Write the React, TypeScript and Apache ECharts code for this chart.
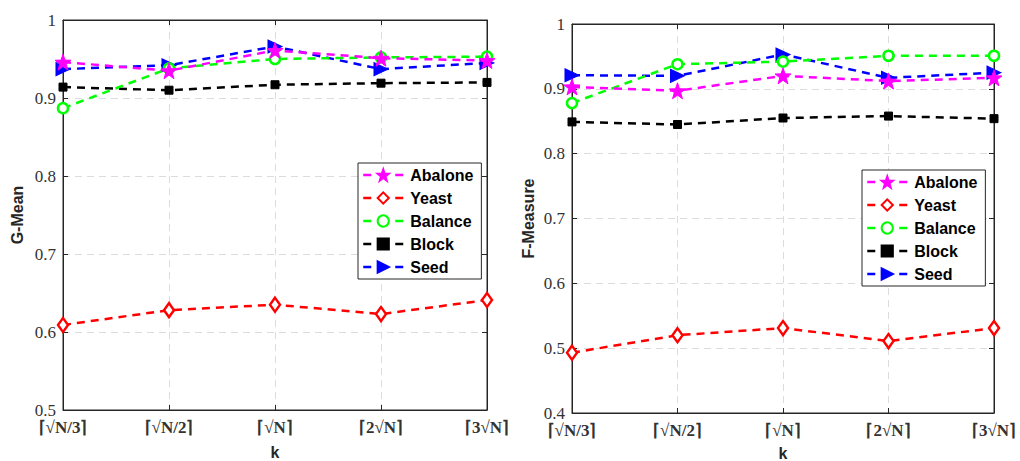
import React, { useEffect, useRef } from "react";
import * as echarts from "echarts";

const categories = ["⌈√N/3⌉", "⌈√N/2⌉", "⌈√N⌉", "⌈2√N⌉", "⌈3√N⌉"];
const seriesNames = ["Abalone", "Yeast", "Balance", "Block", "Seed"];

const gmeanAbalone = [0.946, 0.935, 0.961, 0.951, 0.948];
const gmeanYeast = [0.609, 0.628, 0.635, 0.623, 0.641];
const gmeanBalance = [0.887, 0.938, 0.95, 0.952, 0.953];
const gmeanBlock = [0.914, 0.91, 0.917, 0.919, 0.92];
const gmeanSeed = [0.937, 0.942, 0.966, 0.937, 0.945];

const fAbalone = [0.903, 0.897, 0.92, 0.912, 0.917];
const fYeast = [0.493, 0.52, 0.531, 0.511, 0.531];
const fBalance = [0.878, 0.938, 0.942, 0.951, 0.951];
const fBlock = [0.849, 0.845, 0.855, 0.858, 0.854];
const fSeed = [0.921, 0.92, 0.953, 0.917, 0.925];

const STAR =
  "path://M0,-10 L2.35,-3.24 9.51,-3.09 3.8,1.24 5.88,8.09 0,4 -5.88,8.09 -3.8,1.24 -9.51,-3.09 -2.35,-3.24Z";

const styles: Record<string, any> = {
  Abalone: { color: "#ff00ff", symbol: STAR, symbolSize: 16, rotate: 0, fill: "#ff00ff" },
  Yeast: { color: "#ff0000", symbol: "diamond", symbolSize: [10, 14], rotate: 0, fill: "#ffffff" },
  Balance: { color: "#00ff00", symbol: "circle", symbolSize: 10, rotate: 0, fill: "#ffffff" },
  Block: { color: "#000000", symbol: "rect", symbolSize: 8, rotate: 0, fill: "#000000" },
  Seed: { color: "#0000ff", symbol: "triangle", symbolSize: [13, 14], rotate: -90, fill: "#0000ff" },
};

const SERIF = "Liberation Serif";
const SANS = "Liberation Sans";

const App: React.FC = () => {
  const ref = useRef<HTMLDivElement>(null);
  useEffect(() => {
    if (!ref.current) return;
    const chart = echarts.init(ref.current, undefined, { renderer: "svg" });

    const tickFont = {
      fontFamily: SERIF,
      fontSize: 17,
      color: "#333333",
    };
    const nameFont = {
      fontFamily: SANS,
      fontWeight: "bold" as const,
      fontSize: 16,
      color: "#262626",
    };
    const splitLine = {
      show: true,
      lineStyle: { color: "#dcdcdc", type: [7, 5] as any, width: 1 },
    };

    const gridBase = {
      show: true,
      borderColor: "#262626",
      borderWidth: 1,
      backgroundColor: "#fff",
      containLabel: false,
      outerBoundsMode: "none",
    };
    const grids = [
      { ...gridBase, left: 63, right: 533, top: 20, bottom: 51 },
      { ...gridBase, left: 572, right: 26, top: 24, bottom: 48 },
    ];

    const xAxes: any[] = [];
    const yAxes: any[] = [];
    [0, 1].forEach((g) => {
      xAxes.push({
        type: "category",
        gridIndex: g,
        data: categories,
        boundaryGap: false,
        name: "k",
        nameLocation: "middle",
        nameGap: g === 0 ? 34 : 32,
        nameTextStyle: nameFont,
        axisLine: { lineStyle: { color: "#262626" } },
        axisTick: { inside: true, length: 5, lineStyle: { color: "#262626" } },
        axisLabel: { ...tickFont, margin: 9, fontWeight: "bold", hideOverlap: false },
        splitLine,
      });
      xAxes.push({
        type: "category",
        gridIndex: g,
        position: "top",
        data: categories,
        boundaryGap: false,
        axisLine: { lineStyle: { color: "#262626" } },
        axisTick: { inside: true, length: 5, lineStyle: { color: "#262626" } },
        axisLabel: { show: false },
        splitLine: { show: false },
      });
      const min = g === 0 ? 0.5 : 0.4;
      const fmt = (v: number) => (Math.abs(v - 1) < 1e-6 ? "1" : v.toFixed(1));
      yAxes.push({
        type: "value",
        gridIndex: g,
        min,
        max: 1,
        interval: 0.1,
        name: g === 0 ? "G-Mean" : "F-Measure",
        nameLocation: "middle",
        nameGap: g === 0 ? 38 : 36,
        nameTextStyle: nameFont,
        axisLine: { show: true, lineStyle: { color: "#262626" } },
        axisTick: { show: true, inside: true, length: 5, lineStyle: { color: "#262626" } },
        axisLabel: { ...tickFont, margin: 7, formatter: fmt, hideOverlap: false },
        splitLine,
      });
      yAxes.push({
        type: "value",
        gridIndex: g,
        position: "right",
        min,
        max: 1,
        interval: 0.1,
        axisLine: { show: true, lineStyle: { color: "#262626" } },
        axisTick: { show: true, inside: true, length: 5, lineStyle: { color: "#262626" } },
        axisLabel: { show: false },
        splitLine: { show: false },
      });
    });

    const dataSets = [
      [gmeanAbalone, gmeanYeast, gmeanBalance, gmeanBlock, gmeanSeed],
      [fAbalone, fYeast, fBalance, fBlock, fSeed],
    ];

    const series: any[] = [];
    [0, 1].forEach((g) => {
      seriesNames.forEach((name, i) => {
        const s = styles[name];
        series.push({
          type: "line",
          name,
          xAxisIndex: g * 2,
          yAxisIndex: g * 2,
          data: dataSets[g][i],
          symbol: s.symbol,
          symbolSize: s.symbolSize,
          symbolRotate: s.rotate,
          showAllSymbol: true,
          z: 10 - i,
          lineStyle: { color: s.color, width: 2.5, type: [8, 6] },
          itemStyle: { color: s.fill, borderColor: s.color, borderWidth: s.fill === "#ffffff" ? 2.5 : 1 },
        });
      });
    });

    const legendBase = {
      orient: "vertical",
      data: seriesNames,
      backgroundColor: "#fff",
      borderColor: "#262626",
      borderWidth: 1,
      padding: [4, 8, 4, 4],
      itemGap: 7,
      itemWidth: 40,
      itemHeight: 14,
      lineStyle: { type: [8, 24, 8], width: 2.5 },
      textStyle: {
        fontFamily: SANS,
        fontWeight: "bold",
        fontSize: 16,
        color: "#000",
        padding: [0, 0, 0, 2],
      },
      selectedMode: false,
    };

    chart.setOption({
      animation: false,
      backgroundColor: "#fff",
      grid: grids,
      xAxis: xAxes,
      yAxis: yAxes,
      legend: [
        { ...legendBase, left: 358, top: 163 },
        { ...legendBase, left: 862, top: 170 },
      ],
      series,
    });

    return () => chart.dispose();
  }, []);

  return <div ref={ref} style={{ width: 1020, height: 461, position: "absolute", left: 0, top: 0 }} />;
};

export default App;
